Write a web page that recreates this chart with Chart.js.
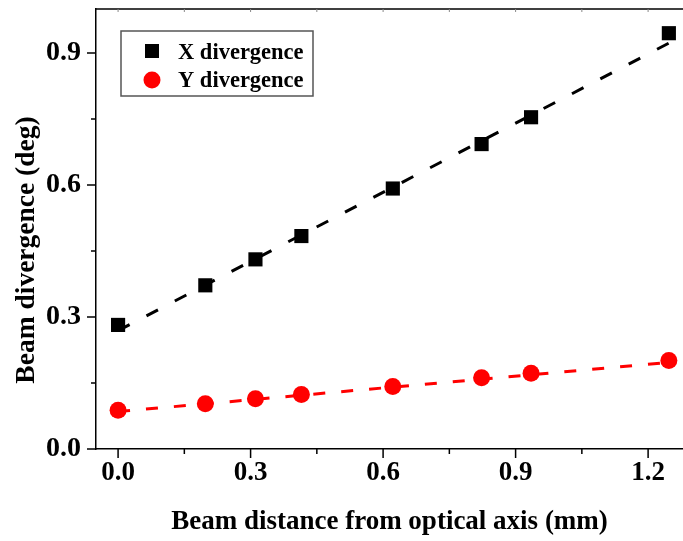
<!DOCTYPE html>
<html lang="en">
<head>
    <meta charset="UTF-8">
    <title>Beam divergence</title>
    <script src="https://cdn.jsdelivr.net/npm/chart.js"></script>
    <style>
        html, body { margin: 0; padding: 0; background: #fff; overflow: hidden; }
        canvas { display: block; }
    </style>
</head>
<body>
    <canvas id="grafico" width="683" height="541"></canvas>

<script>
    // valores
    const distancia = [0, 0.1975, 0.311, 0.415, 0.622, 0.823, 0.935, 1.247];
    const xDivergence = [0.282, 0.372, 0.431, 0.484, 0.592, 0.693, 0.754, 0.945];
    const yDivergence = [0.088, 0.103, 0.114, 0.124, 0.142, 0.162, 0.172, 0.201];

    // retas de ajuste (extremos)
    const fitDistancia = [0, 1.25];
    const fitX = [0.269, 0.924];
    const fitY = [0.085, 0.197];

    const xTicks = [0, 0.3, 0.6, 0.9, 1.2];
    const xMinor = [0.15, 0.45, 0.75, 1.05];
    const yTicks = [0, 0.3, 0.6, 0.9];
    const yMinor = [0.15, 0.45, 0.75];

    const FONTE = "'Liberation Serif', 'Times New Roman', serif";

    function pontos(xs, ys) {
        return xs.map((x, i) => ({ x: x, y: ys[i] }));
    }

    function semPadding(s) {
        s.paddingTop = 0;
        s.paddingBottom = 0;
        s.paddingLeft = 0;
        s.paddingRight = 0;
    }

    const molduraPlugin = {
        id: 'moldura',
        afterDraw(chart) {
            const ctx = chart.ctx;
            const ca = chart.chartArea;
            const sx = chart.scales.x;
            const sy = chart.scales.y;

            ctx.save();
            ctx.strokeStyle = '#000';
            ctx.lineWidth = 1.5;

            // linha de cima
            ctx.beginPath();
            ctx.moveTo(ca.left, ca.top);
            ctx.lineTo(ca.right, ca.top);
            ctx.stroke();

            ctx.beginPath();
            xTicks.forEach(v => {
                const p = sx.getPixelForValue(v);
                ctx.moveTo(p, ca.bottom);
                ctx.lineTo(p, ca.bottom + 9);
            });
            xMinor.forEach(v => {
                const p = sx.getPixelForValue(v);
                ctx.moveTo(p, ca.bottom);
                ctx.lineTo(p, ca.bottom + 5);
            });
            yTicks.forEach(v => {
                const p = sy.getPixelForValue(v);
                ctx.moveTo(ca.left, p);
                ctx.lineTo(ca.left - 9, p);
            });
            yMinor.forEach(v => {
                const p = sy.getPixelForValue(v);
                ctx.moveTo(ca.left, p);
                ctx.lineTo(ca.left - 5, p);
            });
            ctx.stroke();

            ctx.strokeStyle = '#888';
            ctx.lineWidth = 1;
            ctx.beginPath();
            xTicks.concat(xMinor).forEach(v => {
                const p = sx.getPixelForValue(v);
                ctx.moveTo(p, ca.top);
                ctx.lineTo(p, ca.top + 3);
            });
            ctx.stroke();

            // legenda
            const lx = ca.left + 25;
            const ly = ca.top + 22;
            ctx.strokeStyle = '#555';
            ctx.lineWidth = 1.5;
            ctx.strokeRect(lx, ly, 192, 65);

            const ds = chart.data.datasets;
            ctx.fillStyle = ds[0].backgroundColor;
            ctx.fillRect(lx + 24, ly + 13, 14, 14);
            ctx.fillStyle = ds[1].backgroundColor;
            ctx.beginPath();
            ctx.arc(lx + 31, ly + 49, 8.5, 0, Math.PI * 2);
            ctx.fill();

            ctx.fillStyle = '#000';
            ctx.font = 'bold 22.5px ' + FONTE;
            ctx.textAlign = 'left';
            ctx.textBaseline = 'alphabetic';
            ctx.fillText(ds[0].label, lx + 57, ly + 28);
            ctx.fillText(ds[1].label, lx + 57, ly + 56);

            // titulo do eixo y
            ctx.translate(27, (ca.top + ca.bottom) / 2 + 21);
            ctx.rotate(-Math.PI / 2);
            ctx.font = 'bold 27.5px ' + FONTE;
            ctx.textAlign = 'center';
            ctx.textBaseline = 'middle';
            ctx.fillText('Beam divergence (deg)', 0, 0);
            ctx.restore();
        }
    };

    const ctx = document.getElementById('grafico').getContext('2d');

    const graficoChart = new Chart(ctx, {
        type: 'scatter',
        data: {
            datasets: [{
                label: 'X divergence',
                data: pontos(distancia, xDivergence),
                pointStyle: 'rect',
                pointRadius: 10,
                pointHoverRadius: 10,
                backgroundColor: '#000000',
                borderWidth: 0
            }, {
                label: 'Y divergence',
                data: pontos(distancia, yDivergence),
                pointStyle: 'circle',
                pointRadius: 8.5,
                pointHoverRadius: 8.5,
                backgroundColor: '#ff0000',
                borderWidth: 0
            }, {
                label: 'ajuste X',
                data: pontos(fitDistancia, fitX),
                showLine: true,
                pointRadius: 0,
                borderColor: '#000000',
                borderWidth: 3,
                borderDash: [13, 19]
            }, {
                label: 'ajuste Y',
                data: pontos(fitDistancia, fitY),
                showLine: true,
                pointRadius: 0,
                borderColor: '#ff0000',
                borderWidth: 3,
                borderDash: [12, 16]
            }]
        },
        options: {
            responsive: false,
            animation: false,
            devicePixelRatio: 1,
            layout: { autoPadding: false, padding: { top: 9, right: 0, left: 0, bottom: 0 } },
            plugins: {
                legend: { display: false },
                tooltip: { enabled: false }
            },
            scales: {
                x: {
                    type: 'linear',
                    min: -0.05,
                    max: 1.279,
                    afterFit: s => { s.height = 92; semPadding(s); },
                    afterBuildTicks: s => { s.ticks = xTicks.map(v => ({ value: v })); },
                    grid: { display: true, drawOnChartArea: false, drawTicks: false },
                    border: { display: true, color: '#000', width: 1.5 },
                    ticks: {
                        color: '#000',
                        padding: 8,
                        font: { family: FONTE, size: 27, weight: 'bold' },
                        callback: v => v.toFixed(1)
                    },
                    title: {
                        display: true,
                        text: 'Beam distance from optical axis (mm)',
                        color: '#000',
                        padding: { top: 0, bottom: 3 },
                        font: { family: FONTE, size: 27, weight: 'bold' }
                    }
                },
                y: {
                    type: 'linear',
                    min: 0,
                    max: 1.0,
                    afterFit: s => { s.width = 96; semPadding(s); },
                    afterBuildTicks: s => { s.ticks = yTicks.map(v => ({ value: v })); },
                    grid: { display: true, drawOnChartArea: false, drawTicks: false },
                    border: { display: true, color: '#000', width: 1.5 },
                    ticks: {
                        color: '#000',
                        padding: 15,
                        font: { family: FONTE, size: 28, weight: 'bold' },
                        callback: v => v.toFixed(1)
                    }
                }
            }
        },
        plugins: [molduraPlugin]
    });
</script>
</body>
</html>
